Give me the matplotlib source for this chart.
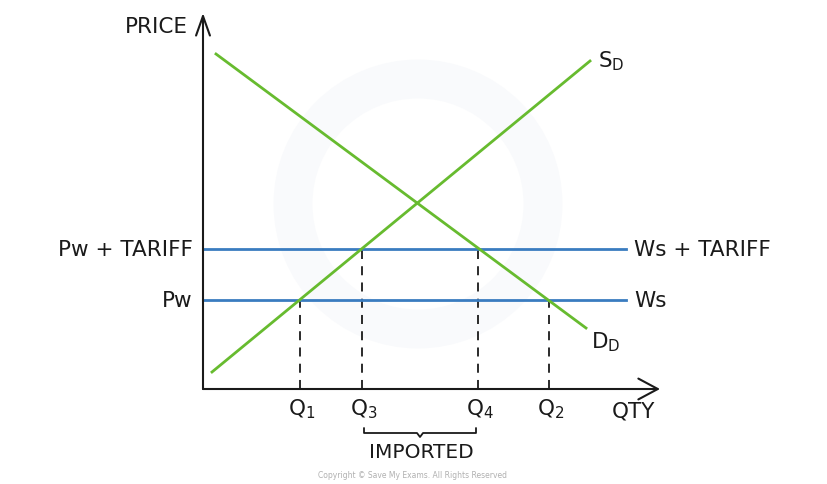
import matplotlib
matplotlib.use("Agg")
import matplotlib.pyplot as plt
from matplotlib.patches import Circle
import numpy as np

plt.rcParams['font.family'] = ['DejaVu Sans']
plt.rcParams['mathtext.default'] = 'regular'

# ---- data (quantity / price units) ----
supply_q = [9, 387]
supply_p = [17, 328]
demand_q = [13, 383]
demand_p = [335, 61]
world_price = 89
world_price_tariff = 140
line_end_q = 423
q_points = {'Q$_1$': 97, 'Q$_3$': 159, 'Q$_4$': 275, 'Q$_2$': 346}
q_levels = [world_price, world_price_tariff, world_price_tariff, world_price]

GREEN = '#67bb2f'
BLUE = '#3a7cc0'
INK = '#1a1a1a'
FS = 15.5

fig = plt.figure(figsize=(8.28, 4.85), dpi=100)
ax = fig.add_axes([0, 0, 1, 1])
ax.set_xlim(-203, 625)
ax.set_ylim(-95, 390)
ax.axis('off')

# faint watermark
ax.add_patch(Circle((215, 185), 125, fill=False, lw=28, ec='#f9fafc', zorder=0))

# axes with open arrowheads
ax.annotate('', xy=(457, 0), xytext=(0, 0),
            arrowprops=dict(arrowstyle='->,head_length=1.4,head_width=0.75', color=INK, lw=1.5, shrinkA=0, shrinkB=0))
ax.annotate('', xy=(0, 376), xytext=(0, 0),
            arrowprops=dict(arrowstyle='->,head_length=1.4,head_width=0.5', color=INK, lw=1.5, shrinkA=0, shrinkB=0))

# price lines
ax.plot([0, line_end_q], [world_price_tariff] * 2, color=BLUE, lw=2, zorder=2)
ax.plot([0, line_end_q], [world_price] * 2, color=BLUE, lw=2, zorder=2)

# supply / demand
ax.plot(supply_q, supply_p, color=GREEN, lw=2, zorder=3)
ax.plot(demand_q, demand_p, color=GREEN, lw=2, zorder=3)

# dashed verticals and Q labels
for (lab, q), lvl in zip(q_points.items(), q_levels):
    ax.plot([q, q], [0, lvl], color=INK, lw=1.3, ls=(0, (5, 4)), zorder=1)
    ax.text(q + 2, -19, lab, ha='center', va='center', fontsize=FS, color=INK)

# labels
ax.text(-15, 363, 'PRICE', ha='right', va='center', fontsize=FS, color=INK)
ax.text(409, -22, 'QTY', ha='left', va='center', fontsize=FS, color=INK)
ax.text(-10, world_price_tariff, 'Pw + TARIFF', ha='right', va='center', fontsize=FS, color=INK)
ax.text(-10, world_price, 'Pw', ha='right', va='center', fontsize=FS, color=INK)
ax.text(line_end_q + 8, world_price_tariff, 'Ws + TARIFF', ha='left', va='center', fontsize=FS, color=INK)
ax.text(line_end_q + 8, world_price, 'Ws', ha='left', va='center', fontsize=FS, color=INK)
ax.text(supply_q[1] + 8, supply_p[1] + 1, 'S$_D$', ha='left', va='center', fontsize=FS, color=INK)
ax.text(demand_q[1] + 5, demand_p[1] - 13, 'D$_D$', ha='left', va='center', fontsize=FS, color=INK)

# brace under Q3..Q4
q3, q4 = q_points['Q$_3$'], q_points['Q$_4$']
mid = (q3 + q4) / 2
yb = -44
r = 3
bx = [q3 + 2, q3 + 2, q3 + 2 + r, mid - r, mid, mid + r, q4 - 2 - r, q4 - 2, q4 - 2]
by = [yb + 5, yb + r - 3, yb - 0, yb - 0, yb - 4, yb - 0, yb - 0, yb + r - 3, yb + 5]
ax.plot(bx, by, color=INK, lw=1.3, solid_joinstyle='round', solid_capstyle='round')
ax.text(mid + 1, -63, 'IMPORTED', ha='center', va='center', fontsize=14.5, color=INK)

ax.text(210, -86, 'Copyright \u00a9 Save My Exams. All Rights Reserved', ha='center', va='center',
        fontsize=5.5, color='#b0b0b0')

fig.savefig('out.png', dpi=100)
